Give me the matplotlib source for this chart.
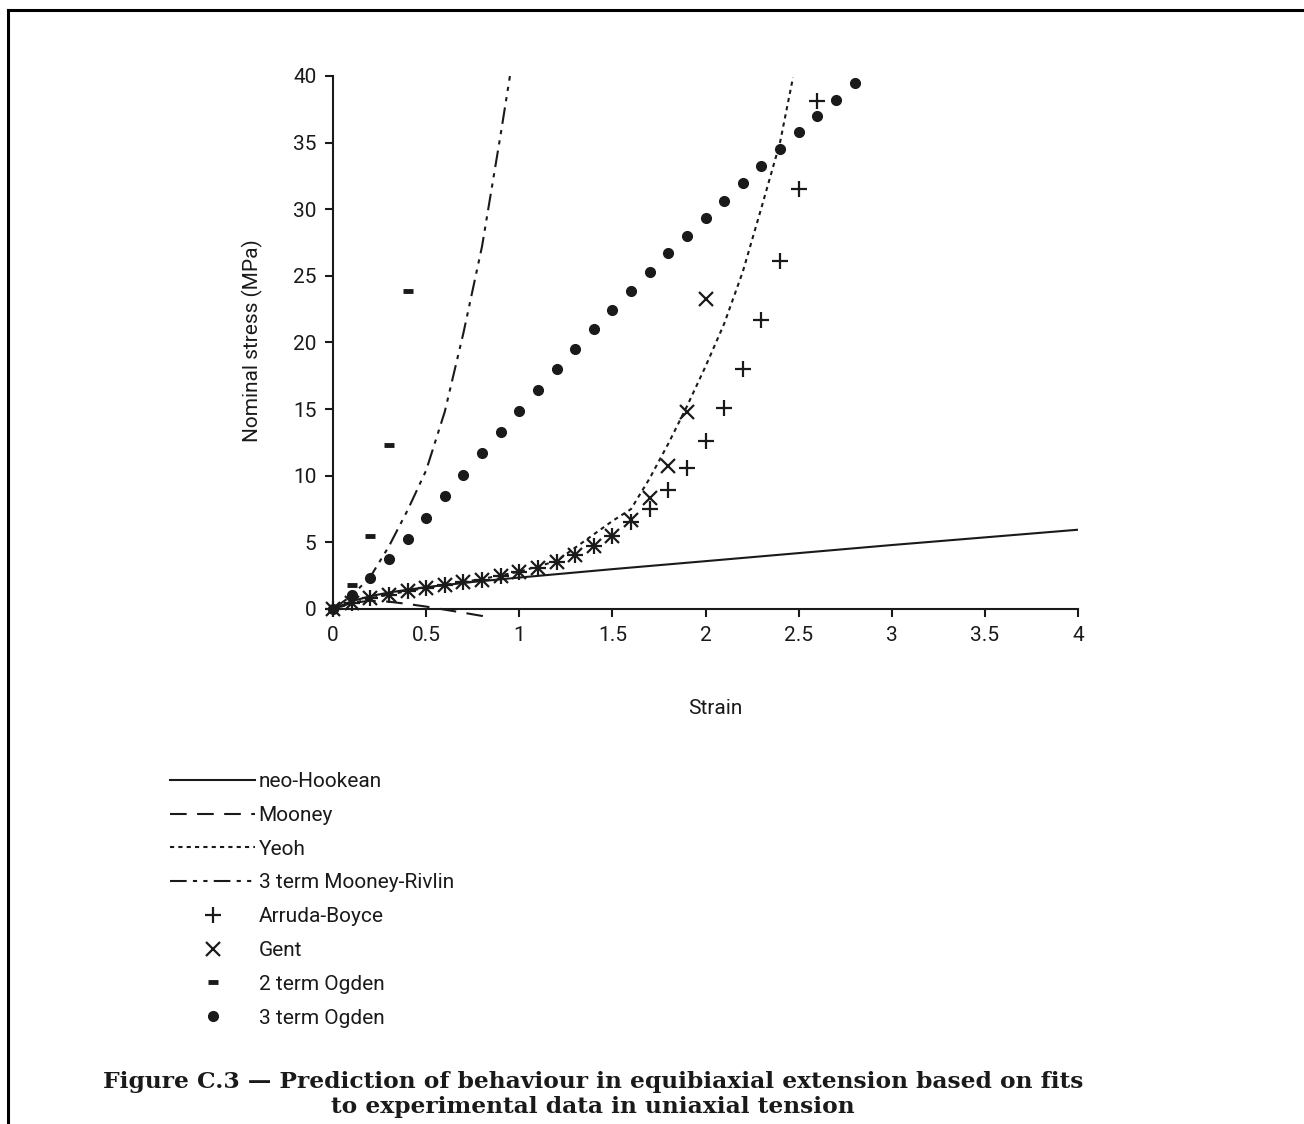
import matplotlib
matplotlib.use("Agg")
import matplotlib.pyplot as plt
from matplotlib.lines import Line2D

plt.rcParams['font.family'] = ['Roboto', 'DejaVu Sans']

# strain values (x) and nominal stress (MPa)
neo_x = [0, 0.1, 0.2, 0.3, 0.5, 0.75, 1.0, 1.5, 2.0, 3.0, 4.0]
neo_y = [0, 0.58, 0.96, 1.24, 1.64, 2.03, 2.36, 2.99, 3.59, 4.8, 5.95]

mooney_x = [0, 0.1, 0.2, 0.3, 0.4, 0.5, 0.6, 0.7, 0.8, 0.85]
mooney_y = [0, 0.45, 0.62, 0.55, 0.38, 0.18, -0.05, -0.28, -0.52, -0.65]

yeoh_x = [0, 0.2, 0.4, 0.6, 0.8, 1.0, 1.2, 1.3, 1.4, 1.5, 1.6, 1.7, 1.8, 1.9, 2.0, 2.1, 2.2, 2.3, 2.4, 2.47]
yeoh_y = [0, 0.8, 1.35, 1.8, 2.25, 2.8, 3.6, 4.6, 5.6, 6.6, 7.5, 9.8, 12.4, 15.2, 18.2, 21.4, 25.3, 30.1, 35.0, 39.9]

mr3_x = [0, 0.1, 0.2, 0.3, 0.4, 0.5, 0.6, 0.7, 0.8, 0.9, 0.95]
mr3_y = [0, 1.0, 2.4, 4.7, 7.4, 10.4, 14.8, 20.7, 27.2, 35.6, 40.0]

ab_x = [round(0.1 * i, 1) for i in range(27)]
ab_y = [0, 0.47, 0.80, 1.05, 1.35, 1.6, 1.8, 2.0, 2.2, 2.45, 2.78, 3.1, 3.55, 4.05,
        4.7, 5.5, 6.5, 7.5, 8.9, 10.6, 12.6, 15.1, 18.0, 21.7, 26.1, 31.5, 38.1]

gent_x = [round(0.1 * i, 1) for i in range(21)]
gent_y = [0, 0.47, 0.80, 1.05, 1.35, 1.6, 1.8, 2.0, 2.2, 2.45, 2.78, 3.1, 3.55, 4.05,
          4.7, 5.45, 6.7, 8.3, 10.7, 14.8, 23.3]

og2_x = [0, 0.1, 0.2, 0.3, 0.4]
og2_y = [0, 1.8, 5.5, 12.3, 23.9]

og3_x = [round(0.1 * i, 1) for i in range(29)]
og3_y = [0, 1.05, 2.3, 3.73, 5.23, 6.85, 8.48, 10.06, 11.68, 13.3, 14.88, 16.4, 18.0,
         19.5, 21.0, 22.44, 23.89, 25.27, 26.69, 28.02, 29.32, 30.64, 31.95, 33.25,
         34.5, 35.8, 37.0, 38.2, 39.45]

W, H = 1304, 1124
fig = plt.figure(figsize=(W / 100, H / 100), dpi=100)
ax = fig.add_axes([333 / W, 1 - 609 / H, (1078 - 333) / W, (609 - 76) / H])

k = '#1a1a1a'
ax.plot(neo_x, neo_y, color=k, lw=1.5, label='neo-Hookean')
ax.plot(mooney_x, mooney_y, color=k, lw=1.5, ls=(0, (8, 5)), clip_on=False, label='Mooney')
ax.plot(yeoh_x, yeoh_y, color=k, lw=1.5, ls=(0, (2, 2)), label='Yeoh')
ax.plot(mr3_x, mr3_y, color=k, lw=1.5, ls=(0, (8, 3, 2, 3, 2, 3)), label='3 term Mooney-Rivlin')
ax.plot(ab_x, ab_y, ls='none', marker='+', ms=12, mew=1.6, color=k, clip_on=False, zorder=3, label='Arruda-Boyce')
ax.plot(gent_x, gent_y, ls='none', marker='x', ms=10, mew=1.6, color=k, clip_on=False, zorder=3, label='Gent')
ax.plot(og2_x, og2_y, ls='none', marker='_', ms=7, mew=3.5, color=k, clip_on=False, zorder=3, label='2 term Ogden')
ax.plot(og3_x, og3_y, ls='none', marker='o', ms=7, color=k, clip_on=False, zorder=3, label='3 term Ogden')

ax.set_xlim(0, 4)
ax.set_ylim(0, 40)
ax.set_xticks([0, 0.5, 1, 1.5, 2, 2.5, 3, 3.5, 4])
ax.set_xticklabels(['0', '0.5', '1', '1.5', '2', '2.5', '3', '3.5', '4'])
ax.set_yticks(range(0, 41, 5))
for s in ['top', 'right']:
    ax.spines[s].set_visible(False)
for s in ['left', 'bottom']:
    ax.spines[s].set_linewidth(1.5)
    ax.spines[s].set_color(k)
ax.tick_params(direction='out', length=6, width=1.5, colors=k, labelsize=15, pad=6)

ax.set_xlabel('Strain', fontsize=15, color=k)
ax.set_ylabel('Nominal stress (MPa)', fontsize=15, color=k)
ax.xaxis.set_label_coords(0.513, -0.168)
ax.yaxis.set_label_coords(-0.094, 0.503)

handles, labels = ax.get_legend_handles_labels()
fig.legend(handles, labels, loc='upper left', bbox_to_anchor=(170 / W, 1 - 772 / H),
           frameon=False, fontsize=15, handlelength=4.1, handletextpad=0.15,
           labelspacing=0.71, borderpad=0, borderaxespad=0, numpoints=1, labelcolor=k)

fig.text(593 / W, 1 - 1082 / H,
         'Figure C.3 \u2014 Prediction of behaviour in equibiaxial extension based on fits',
         ha='center', va='center', fontsize=16.8, fontweight='bold', family='DejaVu Serif', color=k)
fig.text(593 / W, 1 - 1107 / H, 'to experimental data in uniaxial tension',
         ha='center', va='center', fontsize=16.8, fontweight='bold', family='DejaVu Serif', color=k)

# page frame (top and left edges)
fig.add_artist(Line2D([8 / W, 1], [1 - 10 / H, 1 - 10 / H], transform=fig.transFigure, color='black', lw=2.2))
fig.add_artist(Line2D([8 / W, 8 / W], [0, 1 - 10 / H], transform=fig.transFigure, color='black', lw=2.2))

fig.savefig('out.png', dpi=100)
